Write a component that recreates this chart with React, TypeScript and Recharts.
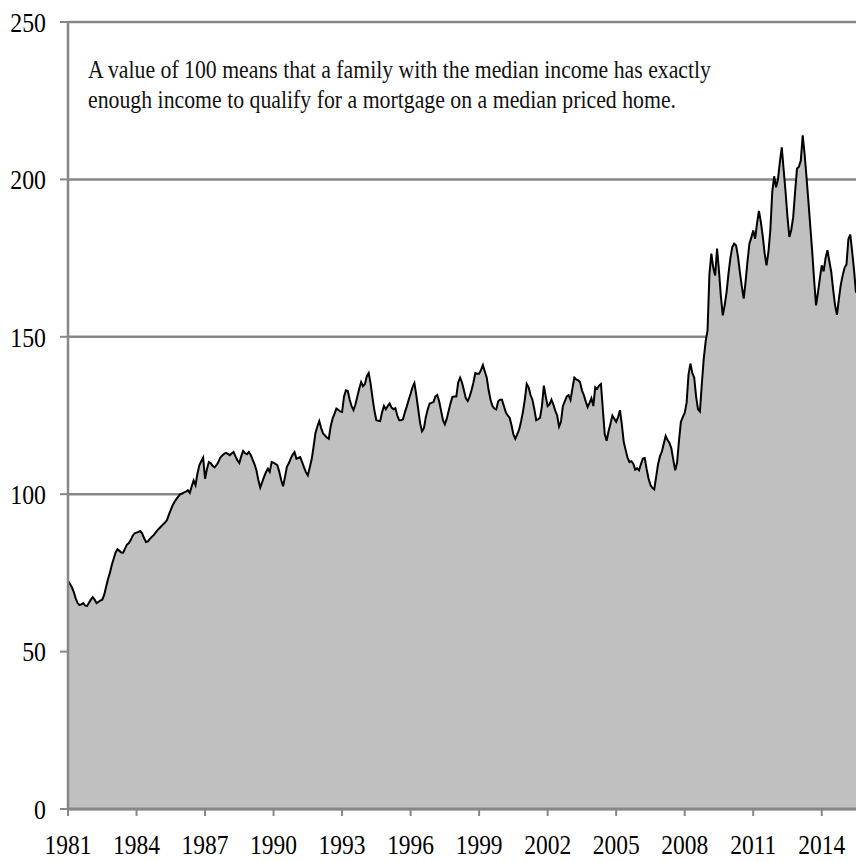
import React from "react";
import {
  AreaChart,
  Area,
  XAxis,
  YAxis,
  CartesianGrid,
  Customized,
} from "recharts";

// monthly index values, Jan..Dec (2015 runs to Jul)
const y1981 = [72.5, 71.5, 70.5, 69, 67, 65.5, 64.8, 65, 65.4, 64.6, 64.5, 65.5];
const y1982 = [66.5, 67.3, 66.5, 65.4, 65.8, 66.2, 66.5, 68, 70.5, 73, 75, 77.5];
const y1983 = [79.5, 81.5, 82.5, 82, 81.5, 81.4, 82.8, 84, 84.5, 85.5, 86.8, 87.6];
const y1984 = [87.8, 88, 88.3, 87.5, 86, 84.8, 85, 85.8, 86.4, 87, 87.8, 88.6];
const y1985 = [89.2, 89.8, 90.5, 91, 91.8, 93.5, 95, 96.5, 97.6, 98.5, 99.3, 100];
const y1986 = [100.2, 100.6, 100.8, 101.3, 100.4, 102.5, 104.4, 102.9, 106.5, 109.2, 110.5, 111.6];
const y1987 = [104.9, 108, 110.2, 109.8, 109, 108.5, 109.2, 110.2, 111.6, 112.3, 112.8, 113.1];
const y1988 = [112.8, 112.4, 112.9, 113.4, 112, 110.8, 109.9, 112, 113.7, 113, 112.7, 113.4];
const y1989 = [112.5, 111, 109.5, 107.6, 104.5, 102.1, 103.8, 105.5, 107, 108.1, 107.1, 110.2];
const y1990 = [110, 109.6, 109.2, 107.1, 104.5, 102.5, 105.5, 108.7, 109.8, 111.3, 112.5, 113.4];
const y1991 = [111.3, 111.5, 111.8, 110.2, 108.5, 107, 106, 108.5, 111, 115, 119.4, 121.5];
const y1992 = [123.2, 121, 119.3, 118.7, 118, 117.6, 121.5, 124, 125.5, 127.2, 126.8, 126.3];
const y1993 = [126.1, 131, 133, 132.8, 130, 128, 126.7, 128.5, 131, 133.5, 135.6, 134.3];
const y1994 = [135, 137.5, 138.5, 135, 130.5, 126.5, 123.5, 123.3, 123.2, 126, 128, 127];
const y1995 = [128, 128.8, 127.5, 127, 127.3, 125, 123.5, 123.5, 123.8, 126, 127.9, 130];
const y1996 = [131.9, 134, 135.3, 131.4, 127, 122.5, 120, 121, 124.5, 127, 128.8, 129];
const y1997 = [129.3, 131, 131.5, 129.5, 126.5, 123.5, 122.2, 124, 126.5, 129, 130.9, 131];
const y1998 = [131, 135.5, 137, 135.5, 133, 130.5, 129.6, 131, 133, 135.5, 138.5, 138.3];
const y1999 = [138.3, 139.5, 141, 139, 137, 133, 130, 128, 127.2, 126.9, 129.5, 130];
const y2000 = [130, 128, 126, 125, 124.3, 122, 119, 117.6, 119, 120.5, 123, 126.1];
const y2001 = [130, 135, 134, 131.5, 130, 127, 123.5, 123.8, 124.3, 128, 134.5, 131];
const y2002 = [128, 128.5, 130, 128.5, 126.5, 125, 121.5, 123, 128, 129.5, 131, 131.5];
const y2003 = [130, 133.5, 137, 136.5, 136.2, 135.6, 133, 131.5, 129.5, 127.7, 129, 130.5];
const y2004 = [128, 134, 133.5, 134.5, 135, 127, 119, 117, 120, 122.4, 125, 124];
const y2005 = [123, 124.5, 126.7, 122, 116.5, 114, 111.5, 110.2, 110.5, 109.7, 107.8, 108.2];
const y2006 = [107.6, 109.5, 111.3, 111.5, 108, 105, 103, 102, 101.5, 105.5, 109.5, 112];
const y2007 = [113.5, 116, 118.5, 117.2, 116.3, 114.5, 111, 107.6, 110, 117, 123, 124.5];
const y2008 = [125.8, 129, 138, 141.5, 138.5, 137, 131, 127, 126.3, 135, 143, 148.5];
const y2009 = [152, 170, 176.4, 172, 169.5, 178, 171, 163, 156.8, 160, 164.2, 170];
const y2010 = [175, 178.5, 179.6, 179, 175.5, 170.5, 166, 162.1, 167.5, 174, 179.6, 181.5];
const y2011 = [183.8, 181.1, 186, 190, 186.5, 182, 176.5, 172.7, 177, 184, 196, 201];
const y2012 = [197.5, 200, 205.5, 210.2, 203, 196, 188, 181.7, 184, 188, 196, 203.5];
const y2013 = [204, 206, 214, 208, 200.7, 193, 185, 177, 168, 160, 164, 168.5];
const y2014 = [172.7, 170.8, 175, 177.5, 174, 170.6, 165, 160, 157, 162, 166.5, 169.5];
const y2015 = [172, 173, 181, 182.5, 177, 171, 164];

const YEAR_VALUES = [
  y1981, y1982, y1983, y1984, y1985, y1986, y1987, y1988, y1989, y1990,
  y1991, y1992, y1993, y1994, y1995, y1996, y1997, y1998, y1999, y2000,
  y2001, y2002, y2003, y2004, y2005, y2006, y2007, y2008, y2009, y2010,
  y2011, y2012, y2013, y2014, y2015,
];
const FIRST_YEAR = 1981;

const X_TICKS = [1981, 1984, 1987, 1990, 1993, 1996, 1999, 2002, 2005, 2008, 2011, 2014];
const Y_TICKS = [0, 50, 100, 150, 200, 250];

const NOTE_LINES = [
  "A value of 100 means that a family with the median income has exactly",
  "enough income to qualify for a mortgage on a median priced home.",
];

const data = YEAR_VALUES.flatMap((vals, yi) =>
  vals.map((v, mi) => ({ t: FIRST_YEAR + yi + mi / 12, value: v }))
);

const FONT = "'Liberation Serif', 'Times New Roman', serif";
const GRID = "#878787";

function XTick({ x, y, payload }: any) {
  return (
    <text
      transform={`translate(${x},${y + 38}) scale(0.87,1)`}
      textAnchor="middle"
      fontFamily={FONT}
      fontSize={27}
      fill="#000"
    >
      {payload.value}
    </text>
  );
}

function YTick({ x, y, payload }: any) {
  return (
    <text
      transform={`translate(${x},${y + 9.7}) scale(0.85,1)`}
      textAnchor="end"
      fontFamily={FONT}
      fontSize={28}
      fill="#000"
    >
      {payload.value}
    </text>
  );
}

function Note() {
  return (
    <g>
      <text
        x={88}
        y={78}
        fontFamily={FONT}
        fontSize={25}
        fill="#111"
        textLength={623}
        lengthAdjust="spacingAndGlyphs"
      >
        {NOTE_LINES[0]}
      </text>
      <text
        x={88}
        y={108}
        fontFamily={FONT}
        fontSize={25}
        fill="#111"
        textLength={588}
        lengthAdjust="spacingAndGlyphs"
      >
        {NOTE_LINES[1]}
      </text>
    </g>
  );
}

export default function App() {
  return (
    <div
      style={{
        position: "absolute",
        left: 0,
        top: 0,
        width: 856,
        height: 862,
        background: "#fff",
        overflow: "hidden",
      }}
    >
      <AreaChart
        width={856}
        height={862}
        data={data}
        margin={{ top: 22, right: 0, left: 0, bottom: 0 }}
      >
        <CartesianGrid vertical={false} stroke={GRID} strokeWidth={2.5} />
        <XAxis
          type="number"
          dataKey="t"
          domain={[FIRST_YEAR, FIRST_YEAR + 414 / 12]}
          ticks={X_TICKS}
          interval={0}
          allowDataOverflow
          height={53}
          tickSize={7}
          tickMargin={0}
          axisLine={{ stroke: GRID, strokeWidth: 3 }}
          tickLine={{ stroke: GRID, strokeWidth: 2 }}
          tick={<XTick />}
        />
        <YAxis
          domain={[0, 250]}
          ticks={Y_TICKS}
          interval={0}
          width={68}
          tickSize={8}
          tickMargin={14}
          axisLine={{ stroke: GRID, strokeWidth: 2.5 }}
          tickLine={{ stroke: GRID, strokeWidth: 2 }}
          tick={<YTick />}
        />
        <Area
          type="linear"
          dataKey="value"
          stroke="#000"
          strokeWidth={2}
          fill="#c0c0c0"
          fillOpacity={1}
          dot={false}
          activeDot={false}
          isAnimationActive={false}
        />
        <Customized component={Note} />
      </AreaChart>
    </div>
  );
}
